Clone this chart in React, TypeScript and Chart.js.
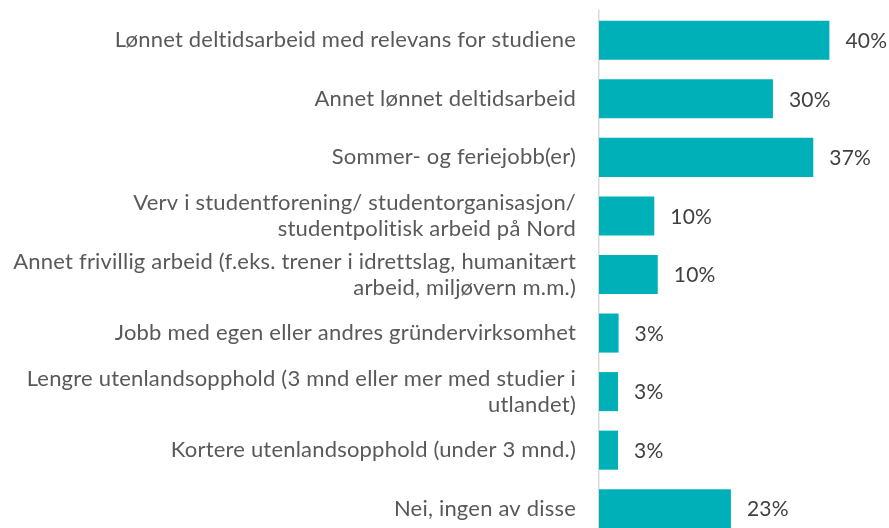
import React, { useEffect, useRef } from "react";
import { Chart, registerables } from "chart.js";

Chart.register(...registerables);

const categories: (string | string[])[] = [
  "Lønnet deltidsarbeid med relevans for studiene",
  "Annet lønnet deltidsarbeid",
  "Sommer- og feriejobb(er)",
  ["Verv i studentforening/ studentorganisasjon/", "studentpolitisk arbeid på Nord"],
  ["Annet frivillig arbeid (f.eks. trener i idrettslag, humanitært", "arbeid, miljøvern m.m.)"],
  "Jobb med egen eller andres gründervirksomhet",
  ["Lengre utenlandsopphold (3 mnd eller mer med studier i", "utlandet)"],
  "Kortere utenlandsopphold (under 3 mnd.)",
  "Nei, ingen av disse",
];

const values = [40, 30.2, 37.2, 9.6, 10.2, 3.4, 3.3, 3.3, 22.9];

const FONT = "Lato";

const spacingPlugin = {
  id: "letterSpacing",
  beforeDraw(chart: any) {
    try {
      chart.ctx.letterSpacing = "0.2px";
    } catch (e) {}
  },
};

const valueLabelPlugin = {
  id: "valueLabels",
  afterDatasetsDraw(chart: any) {
    const ctx = chart.ctx;
    const meta = chart.getDatasetMeta(0);
    ctx.save();
    ctx.font = `21px ${FONT}`;
    ctx.fillStyle = "#404040";
    ctx.textAlign = "left";
    ctx.textBaseline = "middle";
    meta.data.forEach((bar: any, i: number) => {
      const v = values[i];
      ctx.fillText(`${Math.round(v)}%`, bar.x + 16, bar.y + 1);
    });
    ctx.restore();
  },
};

export default function App() {
  const ref = useRef<HTMLCanvasElement | null>(null);

  useEffect(() => {
    if (!ref.current) return;
    const chart = new Chart(ref.current, {
      type: "bar",
      data: {
        labels: categories,
        datasets: [
          {
            data: values,
            backgroundColor: "#00B0B9",
            borderWidth: 0,
            barPercentage: 0.667,
            categoryPercentage: 1,
          },
        ],
      },
      options: {
        indexAxis: "y",
        responsive: false,
        animation: false,
        layout: { padding: { top: 0, bottom: 12, right: 2, left: 0 } },
        plugins: {
          legend: { display: false },
          tooltip: { enabled: false },
        },
        scales: {
          x: { display: false, min: 0, max: 50 },
          y: {
            grid: {
              display: true,
              drawOnChartArea: false,
              drawTicks: true,
              tickLength: 23,
              color: "rgba(0,0,0,0)",
              tickColor: "rgba(0,0,0,0)",
            },
            border: { display: true, color: "#d9d9d9", width: 1.5 },
            ticks: {
              color: "#595959",
              font: (ctx: any) => ({
                family: FONT,
                size: 22,
                lineHeight: Array.isArray(categories[ctx.index]) ? 1.18 : 1.0,
              }),
              padding: 0,
            },
            afterFit: (s: any) => {
              s.width = 599;
            },
          },
        },
      },
      plugins: [spacingPlugin, valueLabelPlugin],
    });
    return () => chart.destroy();
  }, []);

  return (
    <div
      style={{
        position: "fixed",
        top: 0,
        left: 0,
        width: 889,
        height: 528,
        overflow: "hidden",
        background: "#fff",
      }}
    >
      <canvas ref={ref} width={889} height={550} style={{ display: "block" }} />
    </div>
  );
}
